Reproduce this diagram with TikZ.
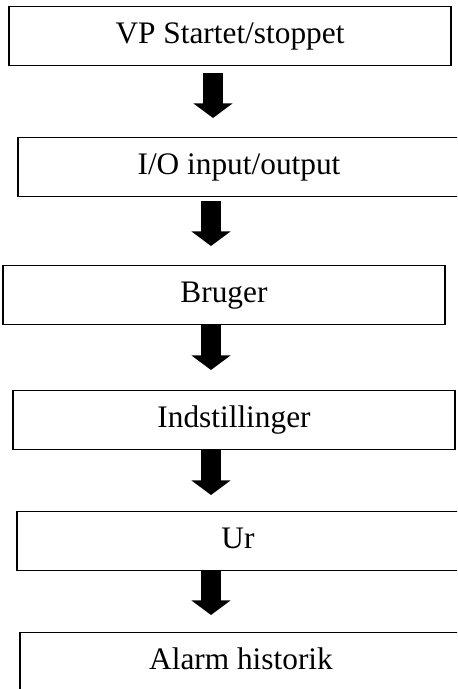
\documentclass[tikz,border=0pt]{standalone}
\usepackage{fontspec}
\setmainfont{Liberation Serif}
\usetikzlibrary{arrows.meta}
\begin{document}
\begin{tikzpicture}[x=0.75pt,y=-0.75pt,
  box/.style={draw, line width=1pt, minimum width=331.5pt, minimum height=44pt,
    inner sep=0pt, font=\fontsize{23.5}{28}\selectfont, text height=1.05em, text depth=0pt},
  blockarrow/.style={line width=15pt, -{Triangle[width=29pt,length=11pt]}}]
\useasboundingbox (0,0) rectangle (457,689);
\clip (0,0) rectangle (457,689);
\fill[white] (0,0) rectangle (457,689);
\node[box] (b1) at (230,36) {VP Startet/stoppet};
\node[box] (b2) at (239,167) {I/O input/output};
\node[box] (b3) at (224,295) {Bruger};
\node[box] (b4) at (234,420) {Indstillinger};
\node[box] (b5) at (238,541) {Ur};
\node[box] (b6) at (241,662) {Alarm historik};
\coordinate (a1s) at (213,73);  \coordinate (a1e) at (213,118);
\coordinate (a2s) at (211,201); \coordinate (a2e) at (211,246);
\coordinate (a3s) at (211,325); \coordinate (a3e) at (211,370);
\coordinate (a4s) at (211,450); \coordinate (a4e) at (211,495);
\coordinate (a5s) at (211,571); \coordinate (a5e) at (211,615);
\draw[blockarrow] (a1s) -- (a1e);
\draw[blockarrow] (a2s) -- (a2e);
\draw[blockarrow] (a3s) -- (a3e);
\draw[blockarrow] (a4s) -- (a4e);
\draw[blockarrow] (a5s) -- (a5e);
\end{tikzpicture}
\end{document}
